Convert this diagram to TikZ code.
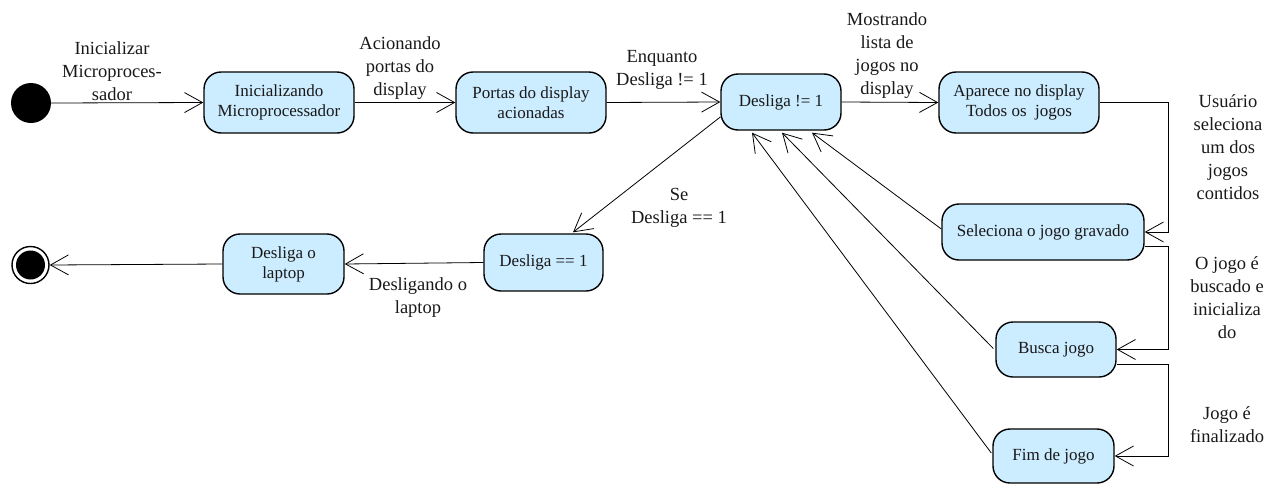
\documentclass[tikz,border=0pt]{standalone}
\usepackage{fontspec}
\setmainfont{Liberation Serif}
\usetikzlibrary{arrows.meta,calc}
\definecolor{statefill}{RGB}{204,236,255}
\definecolor{ink}{RGB}{25,25,25}
\begin{document}
\begin{tikzpicture}[x=1pt,y=-1pt,
  state/.style={draw=black, line width=1.4pt, fill=statefill, rounded corners=17pt,
    inner sep=0pt, align=center, text=ink, font=\fontsize{17}{20}\selectfont},
  lbl/.style={align=center, text=ink, inner sep=0pt, font=\fontsize{18.5}{23}\selectfont},
  flow/.style={draw=black, line width=0.8pt,
    -{Straight Barb[length=18pt,width=20pt,line width=0.8pt]}}
]
\useasboundingbox (0,0) rectangle (1287,485);

% pseudo-states
\node[circle, fill=black, minimum size=40pt, inner sep=0pt] (start) at (31,103) {};
\node[circle, draw=black, line width=1.4pt, fill=white, minimum size=37pt, inner sep=0pt] (stop) at (30.5,265) {};
\node[circle, fill=black, minimum size=29pt, inner sep=0pt] (stopcore) at (30.5,265) {};

% states
\node[state, minimum width=150pt, minimum height=61pt] (ini) at (279,102.5) {Inicializando\\Microprocessador};
\node[state, minimum width=150pt, minimum height=61pt] (portas) at (531,102.5) {Portas do display\\acionadas};
\node[state, minimum width=120pt, minimum height=56pt] (ativo) at (781,102) {Desliga != 1};
\node[state, minimum width=160pt, minimum height=61pt] (lista) at (1019,102.5) {Aparece no display\\Todos os\ \ jogos};
\node[state, minimum width=202pt, minimum height=56pt] (sel) at (1043,232) {Seleciona o jogo gravado};
\node[state, minimum width=120pt, minimum height=55pt] (busca) at (1056,349.5) {Busca jogo};
\node[state, minimum width=121pt, minimum height=54pt] (fim) at (1053.5,456) {Fim de jogo};
\node[state, minimum width=119pt, minimum height=57pt] (desl) at (543.5,262.5) {Desliga == 1};
\node[state, minimum width=121pt, minimum height=60pt] (lap) at (283.5,264) {Desliga o\\laptop};

% transitions along the top row
\draw[flow] (start.east) -- (ini.west);
\draw[flow] (ini.east) -- (portas.west);
\draw[flow] (portas.east) -- (ativo.west);
\draw[flow] (ativo.east) -- (lista.west);

% right-hand chain of game states
\coordinate (rail) at (1168,0);
\coordinate (selout) at ($(sel.east)+(0,14)$);
\coordinate (buscaout) at ($(busca.east)+(0,14.5)$);
\draw[flow] (lista.east) -- (lista.east -| rail) |- (sel.east);
\draw[flow] (selout) -- (selout -| rail) |- (busca.east);
\draw[flow] (buscaout) -- (buscaout -| rail) |- (fim.east);

% returns to the main loop
\draw[flow] ($(sel.west)+(0,-3)$) -- ($(ativo.south)+(31,2)$);
\draw[flow] ($(busca.west)+(-2,-1)$) -- ($(ativo.south)+(1,2)$);
\draw[flow] ($(fim.west)+(-1,-3)$) -- ($(ativo.south)+(-29,2)$);

% shutdown branch
\draw[flow] ($(ativo.west)+(0,15)$) -- ($(desl.north)+(29.5,-1)$);
\draw[flow] (desl.west) -- (lap.east);
\draw[flow] (lap.west) -- (stop.east);

% transition labels
\node[lbl] (l1) at (112,71) {Inicializar\\Microproces-\\sador};
\node[lbl] (l2) at (400,68) {Acionando\\portas do\\display};
\node[lbl] (l3) at (662,70) {Enquanto\\Desliga != 1};
\node[lbl] (l4) at (887,56) {Mostrando\\lista de\\jogos no\\display};
\node[lbl] (l5) at (1228,147) {Usuário\\seleciona\\um dos\\jogos\\contidos};
\node[lbl] (l6) at (1227,298) {O jogo é\\buscado e\\inicializa\\do};
\node[lbl] (l7) at (1227,425) {Jogo é\\finalizado};
\node[lbl] (l8) at (679,208) {Se\\Desliga == 1};
\node[lbl] (l9) at (418,298) {Desligando o\\laptop};
\end{tikzpicture}
\end{document}
